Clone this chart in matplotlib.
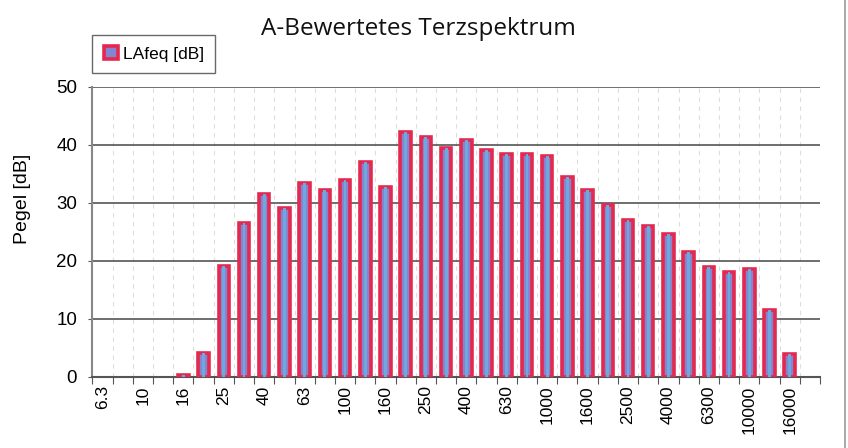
import numpy as np
import matplotlib.pyplot as plt
from matplotlib.lines import Line2D

# Terzbänder und A-bewertete Pegel
bands = ["6.3", "8", "10", "12.5", "16", "20", "25", "31.5", "40", "50",
         "63", "80", "100", "125", "160", "200", "250", "315", "400", "500",
         "630", "800", "1000", "1250", "1600", "2000", "2500", "3150", "4000", "5000",
         "6300", "8000", "10000", "12500", "16000", "20000"]
laeq = [0, 0, 0, 0, 0.3, 4.2, 19.1, 26.5, 31.5, 29.1,
        33.5, 32.2, 34.0, 37.1, 32.7, 42.2, 41.4, 39.5, 40.8, 39.2,
        38.4, 38.4, 38.1, 34.5, 32.2, 29.7, 27.0, 26.0, 24.7, 21.6,
        19.0, 18.1, 18.6, 11.5, 3.9, 0]
yticks = [0, 10, 20, 30, 40, 50]

fig = plt.figure(figsize=(8.48, 4.48), dpi=100)
ax = fig.add_axes([0.109, 0.1585, 0.858, 0.6475])

x = np.arange(len(bands))
vals = np.array(laeq)
has = vals > 0
ax.bar(x[has], vals[has], width=0.52, color="#8585cf", edgecolor="#e4284f", linewidth=2.6,
       zorder=3, label="LAfeq [dB]")
ax.bar(x[has], vals[has], width=0.14, color="#6fa8dc", linewidth=0, zorder=4)

ax.set_xlim(-0.5, len(bands) - 0.5)
ax.set_ylim(0, 50)
ax.set_yticks(yticks)
ax.set_yticklabels([str(v) for v in yticks], fontsize=13.5, family="Liberation Sans")

# ticks on band boundaries, labels on every second band
ax.set_xticks(np.arange(len(bands) + 1) - 0.5)
ax.set_xticklabels([])
ax.set_xticks(x[::2], minor=True)
ax.set_xticklabels(bands[::2], minor=True, rotation=90, fontsize=12.5, family="Liberation Sans")
ax.tick_params(axis="x", which="minor", length=0, pad=6)
ax.tick_params(axis="x", which="major", length=5, color="#555555", direction="out")
ax.tick_params(axis="y", length=3, color="#555555", pad=8)

ax.grid(axis="y", color="#555555", linewidth=1.2, zorder=1)
ax.grid(axis="x", which="major", color="#dddddd", linestyle=(0, (4, 4)), linewidth=0.8, zorder=1)

for s in ["top", "right"]:
    ax.spines[s].set_visible(False)
ax.spines["left"].set_color("#888888")
ax.spines["bottom"].set_color("#555555")
ax.spines["left"].set_linewidth(1.5)
ax.spines["bottom"].set_linewidth(1.5)

ax.set_ylabel("Pegel [dB]", fontsize=14, family="Liberation Sans")
ax.yaxis.set_label_coords(-0.085, 0.614)

fig.text(0.4935, 0.922, "A-Bewertetes Terzspektrum", ha="center", va="baseline",
         fontsize=17.5, family="Open Sans", color="#111111")

leg = ax.legend(loc="lower left", bbox_to_anchor=(0.109, 0.837),
                bbox_transform=fig.transFigure, prop={"family": "Liberation Sans", "size": 12.5},
                frameon=True, fancybox=False, edgecolor="#444444", handlelength=0.8,
                handleheight=0.8, handletextpad=0.3, borderpad=0.65, borderaxespad=0)
leg.get_frame().set_linewidth(1)

fig.add_artist(Line2D([0.997, 0.997], [0, 1], transform=fig.transFigure, color="#999999", lw=1.2))

fig.savefig("out.png", dpi=100)
